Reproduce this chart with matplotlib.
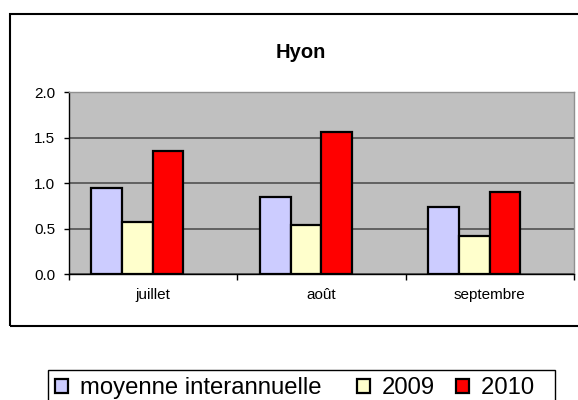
import matplotlib
matplotlib.use("Agg")
import matplotlib.pyplot as plt
import matplotlib.patches as mpatches
import numpy as np

plt.rcParams['font.family'] = ['Liberation Sans', 'DejaVu Sans']

mois = ['juillet', 'août', 'septembre']
series = ['moyenne interannuelle', '2009', '2010']
moyenne = [0.95, 0.85, 0.74]
v2009 = [0.57, 0.54, 0.42]
v2010 = [1.35, 1.56, 0.90]
couleurs = ['#CCCCFF', '#FFFFCC', '#FF0000']

fig = plt.figure(figsize=(5.78, 4.0), dpi=100)
ax = fig.add_axes([68.5 / 578, 1 - 274 / 400, (574 - 68.5) / 578, (274 - 92.3) / 400])
ax.set_facecolor('#C0C0C0')

# excel: 4 series slots (one empty), gap 150%
w = 1 / 5.5
x = np.arange(len(mois))
pads = ['  ', '', '  ']  # uneven legend spacing like the original
for i, (vals, c) in enumerate(zip([moyenne, v2009, v2010], couleurs)):
    ax.bar(x + (i - 1.5) * w, vals, w, color=c, edgecolor='black', linewidth=1.6,
           label=series[i] + pads[i], zorder=3)

ax.set_xlim(-0.5, 2.5)
ax.set_ylim(0, 2.0)
ax.set_yticks([0, 0.5, 1.0, 1.5, 2.0])
ax.set_yticklabels(['0.0', '0.5', '1.0', '1.5', '2.0'])
ax.yaxis.grid(True, color='#474747', linewidth=1.1, zorder=1)
ax.set_axisbelow(True)

ax.set_xticks([-0.5, 0.5, 1.5, 2.5])
ax.set_xticklabels([])
ax.set_xticks(x, minor=True)
ax.set_xticklabels(mois, minor=True)
ax.tick_params(axis='x', which='major', direction='out', length=4, width=1)
ax.tick_params(axis='x', which='minor', length=0, pad=10, labelsize=11)
ax.tick_params(axis='y', direction='out', length=3.5, width=1, pad=6, labelsize=11)

for s in ['top', 'right']:
    ax.spines[s].set_color('#909090')
    ax.spines[s].set_linewidth(1.0)
for s in ['left', 'bottom']:
    ax.spines[s].set_color('black')
    ax.spines[s].set_linewidth(1.0)

fig.text(301 / 578, 1 - 52 / 400, 'Hyon', ha='center', va='center',
         fontsize=14.5, fontweight='bold')

# chart border
fig.patches.append(mpatches.Rectangle((10 / 578, 1 - 326 / 400), 1.0, (326 - 14) / 400,
                                      transform=fig.transFigure, fill=False,
                                      edgecolor='black', linewidth=1.5, clip_on=False))

leg = fig.legend(loc='upper left', bbox_to_anchor=(48 / 578, 1 - 370 / 400),
                 ncol=3, fontsize=17.2, frameon=True, fancybox=False,
                 edgecolor='black', framealpha=1, borderpad=0.3,
                 handlelength=0.55, handleheight=0.55, handletextpad=0.5,
                 columnspacing=0.9, borderaxespad=0)
leg.get_frame().set_linewidth(1.0)

fig.savefig('out.png', dpi=100)
